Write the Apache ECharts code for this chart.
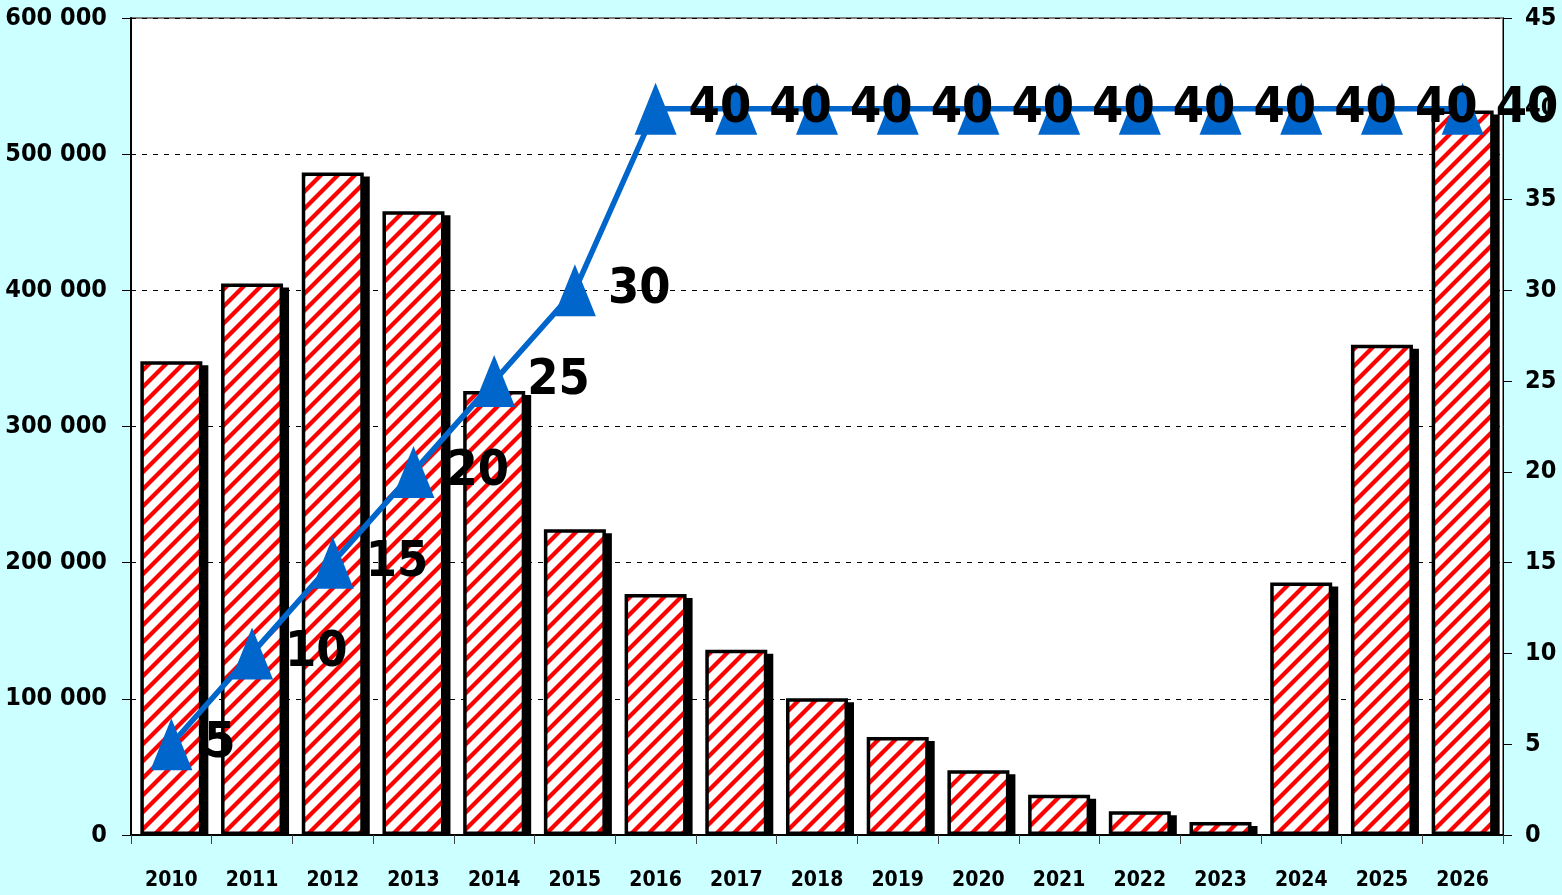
<!DOCTYPE html>
<html>
<head>
<meta charset="utf-8">
<script src="https://cdn.jsdelivr.net/npm/echarts@6/dist/echarts.min.js"></script>
<style>
    html, body { margin: 0; padding: 0; background: #ccffff; }
    #chart { width: 1562px; height: 895px; }
</style>
</head>
<body>
<div id="chart"></div>
<script>
var years = ['2010', '2011', '2012', '2013', '2014', '2015', '2016', '2017', '2018',
    '2019', '2020', '2021', '2022', '2023', '2024', '2025', '2026'];
var barValues = [348000, 405000, 486500, 458000, 326000, 224500, 177000, 136000, 100500,
    72000, 47500, 29500, 17500, 9500, 185500, 360000, 532000];
var lineValues = [5, 10, 15, 20, 25, 30, 40, 40, 40, 40, 40, 40, 40, 40, 40, 40, 40];
var leftTicks = { min: 0, max: 600000, interval: 100000 };
var rightTicks = { min: 0, max: 45, interval: 5 };

var fontNarrow = '"DejaVu Sans Condensed", "Liberation Sans Narrow", "DejaVu Sans", sans-serif';
var weightNarrow = 'bold condensed';
var BAR_W = 62;

// hatch fill for the bars: red diagonal stripes on white
function makeHatch() {
    var s = 17, w = 6;
    var cv = document.createElement('canvas');
    cv.width = s;
    cv.height = s;
    var ctx = cv.getContext('2d');
    ctx.fillStyle = '#ffffff';
    ctx.fillRect(0, 0, s, s);
    ctx.fillStyle = '#ff0000';
    for (var k = -s; k <= s; k += s) {
        ctx.beginPath();
        ctx.moveTo(k, s);
        ctx.lineTo(k + w, s);
        ctx.lineTo(k + w + s, 0);
        ctx.lineTo(k + s, 0);
        ctx.closePath();
        ctx.fill();
    }
    return cv;
}

// black drop shadow behind each bar (offset right / down, stops at the axis)
function renderShadow(params, api) {
    var top = api.coord([api.value(0), api.value(1)]);
    var base = api.coord([api.value(0), 0]);
    var dx = 6, dy = 4;
    return {
        type: 'rect',
        shape: {
            x: top[0] - BAR_W / 2 + dx,
            y: top[1] + dy,
            width: BAR_W,
            height: Math.max(0, base[1] - top[1] - dy)
        },
        style: { fill: '#000' }
    };
}

var chart = echarts.init(document.getElementById('chart'), null, { renderer: 'canvas' });

var option = {
    backgroundColor: '#ccffff',
    animation: false,
    grid: {
        left: 131,
        right: 59,
        top: 18,
        bottom: 60,
        outerBoundsMode: 'none',
        show: true,
        backgroundColor: '#ffffff',
        borderColor: '#808080',
        borderWidth: 2
    },
    xAxis: {
        type: 'category',
        data: years,
        axisLine: { lineStyle: { color: '#000', width: 2 } },
        axisTick: { show: true, length: 9, lineStyle: { color: '#444', width: 1 } },
        axisLabel: {
            interval: 0,
            color: '#000',
            fontFamily: fontNarrow,
            fontWeight: weightNarrow,
            fontSize: 21,
            margin: 35
        }
    },
    yAxis: [{
        type: 'value',
        min: leftTicks.min,
        max: leftTicks.max,
        interval: leftTicks.interval,
        axisLine: { show: true, lineStyle: { color: '#000', width: 2 } },
        axisTick: { show: true, length: 9, lineStyle: { color: '#000', width: 1 } },
        splitLine: { show: true, lineStyle: { color: '#000', type: [5, 6], width: 1 } },
        axisLabel: {
            color: '#000',
            fontFamily: fontNarrow,
            fontWeight: weightNarrow,
            fontSize: 25,
            margin: 24,
            formatter: function (v) {
                return String(v).replace(/\B(?=(\d{3})+(?!\d))/g, ' ');
            }
        }
    }, {
        type: 'value',
        min: rightTicks.min,
        max: rightTicks.max,
        interval: rightTicks.interval,
        position: 'right',
        axisLine: { show: true, lineStyle: { color: '#000', width: 1 } },
        axisTick: { show: true, length: 9, lineStyle: { color: '#000', width: 1 } },
        splitLine: { show: false },
        axisLabel: {
            color: '#000',
            fontFamily: fontNarrow,
            fontWeight: weightNarrow,
            fontSize: 25,
            margin: 22
        }
    }],
    series: [{
        name: 'shadow',
        type: 'custom',
        data: barValues.map(function (v, i) { return [i, v]; }),
        renderItem: renderShadow,
        silent: true,
        z: 1
    }, {
        name: 'bars',
        type: 'bar',
        data: barValues,
        barWidth: BAR_W,
        itemStyle: {
            color: { image: makeHatch(), repeat: 'repeat' },
            borderColor: '#000',
            borderWidth: 3.5
        },
        z: 2
    }, {
        name: 'line',
        type: 'line',
        yAxisIndex: 1,
        data: lineValues,
        symbol: 'triangle',
        symbolSize: [42, 52],
        itemStyle: { color: '#0066cc' },
        lineStyle: { color: '#0066cc', width: 5.5 },
        label: {
            show: true,
            position: 'right',
            distance: 12,
            color: '#000',
            fontFamily: fontNarrow,
            fontWeight: weightNarrow,
            fontSize: 50
        },
        z: 5
    }]
};

chart.setOption(option);
</script>
</body>
</html>
